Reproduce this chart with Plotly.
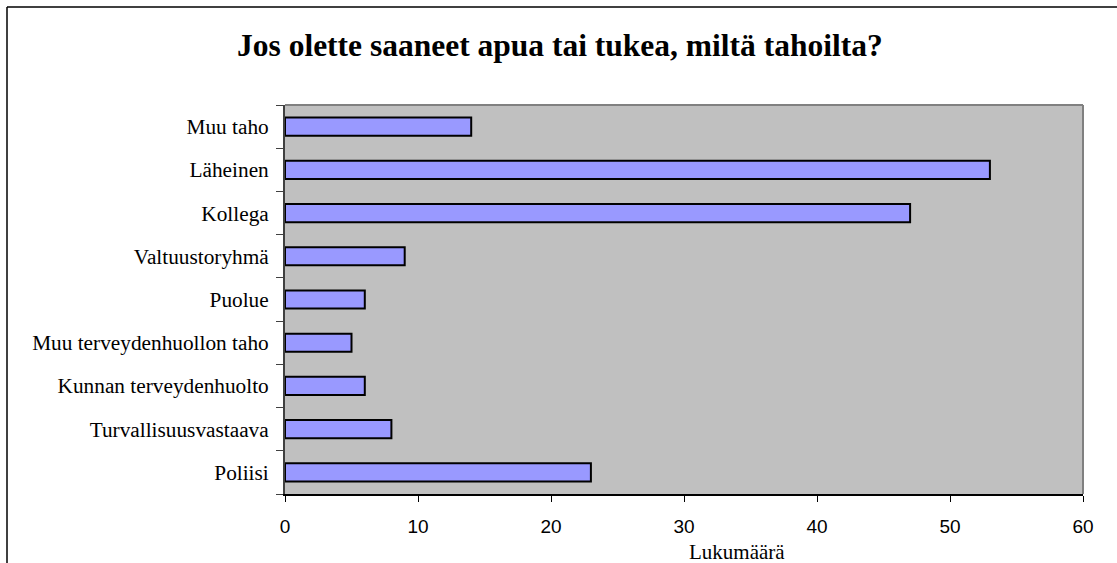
import plotly.graph_objects as go

# Survey answers: sources of help or support and number of respondents
categories = [
    "Poliisi",
    "Turvallisuusvastaava",
    "Kunnan terveydenhuolto",
    "Muu terveydenhuollon taho",
    "Puolue",
    "Valtuustoryhmä",
    "Kollega",
    "Läheinen",
    "Muu taho",
]
counts = [23, 8, 6, 5, 6, 9, 47, 53, 14]
x_ticks = [0, 10, 20, 30, 40, 50, 60]

W, H = 1117, 563
ML, MR, MT, MB = 285, 34, 105, 69
PW = W - ML - MR
PH = H - MT - MB


def px_x(p):
    return (p - ML) / PW


def px_y(p):
    return (H - MB - p) / PH


serif = "Liberation Serif, Times New Roman, serif"
sans = "Liberation Sans, Arial, sans-serif"

fig = go.Figure(
    go.Bar(
        x=counts,
        y=categories,
        orientation="h",
        marker=dict(color="#9999FF", line=dict(color="black", width=2)),
        hoverinfo="x+y",
    )
)

fig.update_layout(
    width=W,
    height=H,
    margin=dict(l=ML, r=MR, t=MT, b=MB),
    paper_bgcolor="white",
    plot_bgcolor="#C0C0C0",
    bargap=0.58,
    showlegend=False,
    xaxis=dict(
        range=[0, 60],
        tickvals=x_ticks,
        ticks="outside",
        ticklen=6,
        tickcolor="black",
        ticklabelstandoff=8,
        showline=True,
        linecolor="black",
        linewidth=1.5,
        showgrid=False,
        zeroline=False,
        tickfont=dict(family=sans, size=19, color="black"),
    ),
    yaxis=dict(
        type="category",
        categoryorder="array",
        categoryarray=categories,
        tickson="boundaries",
        ticks="outside",
        ticklen=7,
        tickcolor="#404040",
        ticklabelstandoff=10,
        showline=True,
        linecolor="#404040",
        linewidth=2,
        showgrid=False,
        zeroline=False,
        tickfont=dict(family=serif, size=21.3, color="black"),
    ),
    shapes=[
        # gray frame on the top and right sides of the plot area
        dict(type="line", xref="paper", yref="paper", x0=0, x1=1, y0=1, y1=1,
             line=dict(color="#808080", width=2)),
        dict(type="line", xref="paper", yref="paper", x0=1, x1=1, y0=0, y1=1,
             line=dict(color="#808080", width=2)),
        # outer chart border
        dict(type="line", xref="paper", yref="paper",
             x0=px_x(7), x1=px_x(W + 20), y0=px_y(7), y1=px_y(7),
             line=dict(color="black", width=1.5)),
        dict(type="line", xref="paper", yref="paper",
             x0=px_x(7), x1=px_x(7), y0=px_y(7), y1=px_y(H + 20),
             line=dict(color="black", width=1.5)),
    ],
    annotations=[
        dict(
            text="<b>Jos olette saaneet apua tai tukea, miltä tahoilta?</b>",
            xref="paper", yref="paper",
            x=px_x(560), y=px_y(45),
            xanchor="center", yanchor="middle",
            showarrow=False,
            font=dict(family=serif, size=31.5, color="black"),
        ),
        dict(
            text="Lukumäärä",
            xref="paper", yref="paper",
            x=px_x(737), y=px_y(552),
            xanchor="center", yanchor="middle",
            showarrow=False,
            font=dict(family=serif, size=21, color="black"),
        ),
    ],
)

fig.write_html("out.html")
